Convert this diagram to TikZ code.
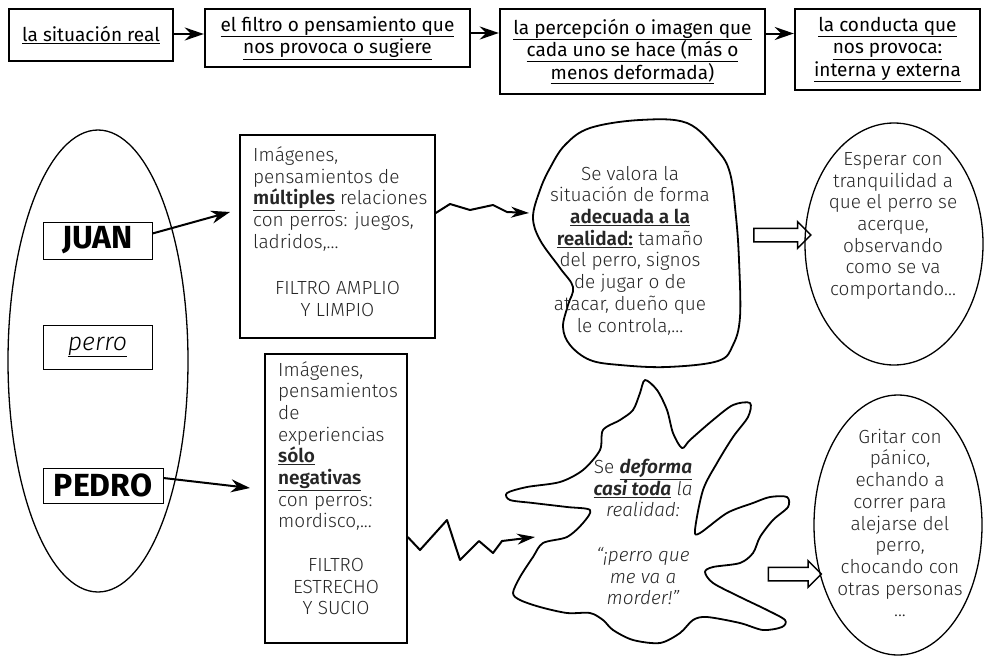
\documentclass[tikz,border=0pt]{standalone}
\usepackage{fontspec}
\setmainfont{Fira Sans}[UprightFont={* Light}, ItalicFont={* Light Italic}, BoldFont={* SemiBold}, BoldItalicFont={* SemiBold Italic}]
\newfontfamily\hdrfont{Fira Sans}
\usetikzlibrary{arrows.meta,shapes.geometric,shapes.arrows}
\tikzset{
  topbox/.style={draw, line width=2.4pt, inner sep=0pt, align=center, font=\hdrfont\fontsize{19}{22.5}\selectfont},
  arr/.style={line width=2pt, -{Stealth[length=19pt,width=13pt]}},
  namebox/.style={draw, line width=0.9pt, inner sep=0pt},
  filt/.style={draw, line width=1.5pt, inner sep=0pt},
  body/.style={font=\fontsize{19}{21.7}\selectfont, text=black!85, inner sep=0pt},
  blob/.style={line width=1.8pt, line join=round},
  zig/.style={line width=2pt, line join=round, -{Stealth[length=18pt,width=11pt]}},
  hollow/.style={single arrow, draw, line width=1.5pt, inner sep=6pt, single arrow head extend=6.5pt, single arrow tip angle=90},
  oval/.style={ellipse, draw, line width=1.3pt, inner sep=0pt},
}
\begin{document}
\begin{tikzpicture}[x=1pt,y=-1pt]
\useasboundingbox (0,0) rectangle (985,656);
% top row
\node[topbox, minimum width=164pt, minimum height=52pt] (t1) at (91,35) {\underline{la situación real}};
\node[topbox, minimum width=265pt, minimum height=58pt] (t2) at (337.5,38) {\underline{el filtro o pensamiento que}\\\underline{nos provoca o sugiere}};
\node[topbox, minimum width=265pt, minimum height=85pt] (t3) at (632.5,51.5) {\underline{la percepción o imagen que}\\\underline{cada uno se hace (más o}\\\underline{menos deformada)}};
\node[topbox, minimum width=185pt, minimum height=81pt] (t4) at (887.5,49.5) {\underline{la conducta que}\\\underline{nos provoca:}\\\underline{interna y externa}};
\draw[arr] ([yshift=1pt]t1.east) -- ([yshift=1pt]t1.east -| t2.west);
\draw[arr] ([yshift=5pt]t2.east) -- ([yshift=5pt]t2.east -| t3.west);
\draw[arr] ([yshift=18pt]t3.east) -- ([yshift=18pt]t3.east -| t4.west);
% left ellipse
\node[oval, minimum width=180pt, minimum height=462pt] (pe) at (98,361) {};
\node[namebox, minimum width=109pt, minimum height=37pt, font=\hdrfont\bfseries\fontsize{32}{32}\selectfont] (juan) at (97.5,240.5) {JUAN};
\node[namebox, minimum width=109pt, minimum height=44pt, font=\itshape\fontsize{25}{25}\selectfont] (perro) at (97.5,347) {\underline{perro}};
\node[namebox, minimum width=120pt, minimum height=35pt, font=\hdrfont\bfseries\fontsize{32}{32}\selectfont] (pedro) at (103,485.5) {PEDRO};
% filter boxes
\node[filt, minimum width=195pt, minimum height=203pt] (f1) at (337.5,236.5) {};
\node[body, align=left, anchor=west] (f1a) at (253,199) {Imágenes,\\ pensamientos de\\ \underline{\textbf{múltiples}} relaciones\\ con perros: juegos,\\ ladridos,...};
\node[body, align=center] (f1b) at (337.5,299) {FILTRO AMPLIO\\ Y LIMPIO};
\node[filt, minimum width=142pt, minimum height=289pt] (f2) at (336,498.5) {};
\node[body, align=left, anchor=west] (f2a) at (278,446) {Imágenes,\\ pensamientos\\ de\\ experiencias\\ \underline{\textbf{sólo}}\\ \underline{\textbf{negativas}}\\ con perros:\\ mordisco,...};
\node[body, align=center] (f2b) at (336,586.5) {FILTRO\\ ESTRECHO\\ Y SUCIO};
\coordinate (jt) at (230,212);
\coordinate (pt) at (250,488);
\draw[arr] ([yshift=7pt]juan.east) -- (jt);
\draw[arr] ([yshift=7.5pt]pedro.east) -- (pt);
% blob 1
\draw[blob] plot[smooth cycle, tension=0.6] coordinates {(640,120) (687,123) (717,150) (730,173) (736,217) (739,260) (740,317) (733,345) (718,361) (667,367) (620,365) (590,360) (570,345) (563,327) (568,305) (573,287) (560,268) (540,240) (533,217) (540,190) (550,168) (565,145) (590,128)};
\node[body, align=center] (b1t) at (630,250.5) {Se valora la\\ situación de forma\\ \underline{\textbf{adecuada a la}}\\ \underline{\textbf{realidad:}} tamaño\\ del perro, signos\\ de jugar o de\\ atacar, dueño que\\ le controla,...};
\coordinate (b1in) at (529,213);
\draw[zig] ([yshift=23.5pt]f1.east) -- (450,204) -- (470,210) -- (493,205) -- (507,212) -- (b1in);
% blob 2
\draw[blob] plot[smooth cycle, tension=0.5] coordinates {(645,380) (657,390) (667,410) (673,433) (682,448) (690,440) (713,420) (733,405) (750,403) (748,417) (733,437) (717,463) (703,490) (695,530) (700,533) (727,513) (753,503) (770,497) (787,497) (788,507) (773,520) (760,537) (753,553) (740,563) (713,567) (705,572) (713,583) (740,597) (767,610) (785,620) (782,627) (763,630) (740,623) (707,617) (693,620) (680,633) (660,643) (633,640) (613,630) (603,620) (590,613) (567,613) (540,607) (520,600) (513,593) (520,577) (533,557) (543,543) (567,537) (583,523) (590,510) (567,507) (533,503) (510,500) (507,493) (527,487) (560,482) (583,470) (600,450) (603,430) (620,420) (633,410) (640,393)};
\node[body, align=center, font=\fontsize{19}{21.7}\selectfont\itshape] (b2t) at (643,532) {\textup{Se} \underline{\textbf{deforma}}\\ \underline{\textbf{casi toda}} la\\ realidad:\\[23pt] “¡perro que\\ me va a\\ morder!”};
\coordinate (b2in) at (535,537);
\draw[zig] (f2.east |- 0,537) -- (420,550) -- (447,520) -- (460,560) -- (479,541) -- (493,553) -- (502,541) -- (b2in);
% right ellipses
\node[oval, minimum width=178pt, minimum height=242pt] (e1) at (894,244) {};
\node[body, align=center] (e1t) at (893,226) {Esperar con\\ tranquilidad a\\ que el perro se\\ acerque,\\ observando\\ como se va\\ comportando...};
\node[oval, minimum width=168pt, minimum height=260pt] (e2) at (898,525) {};
\node[body, align=center] (e2t) at (900,523) {Gritar con\\ pánico,\\ echando a\\ correr para\\ alejarse del\\ perro,\\ chocando con\\ otras personas\\ ...};
% hollow arrows
\node[hollow, minimum height=57pt] (h1) at (779,235) {};
\node[hollow, minimum height=53pt] (h2) at (791.5,574) {};
\end{tikzpicture}
\end{document}
